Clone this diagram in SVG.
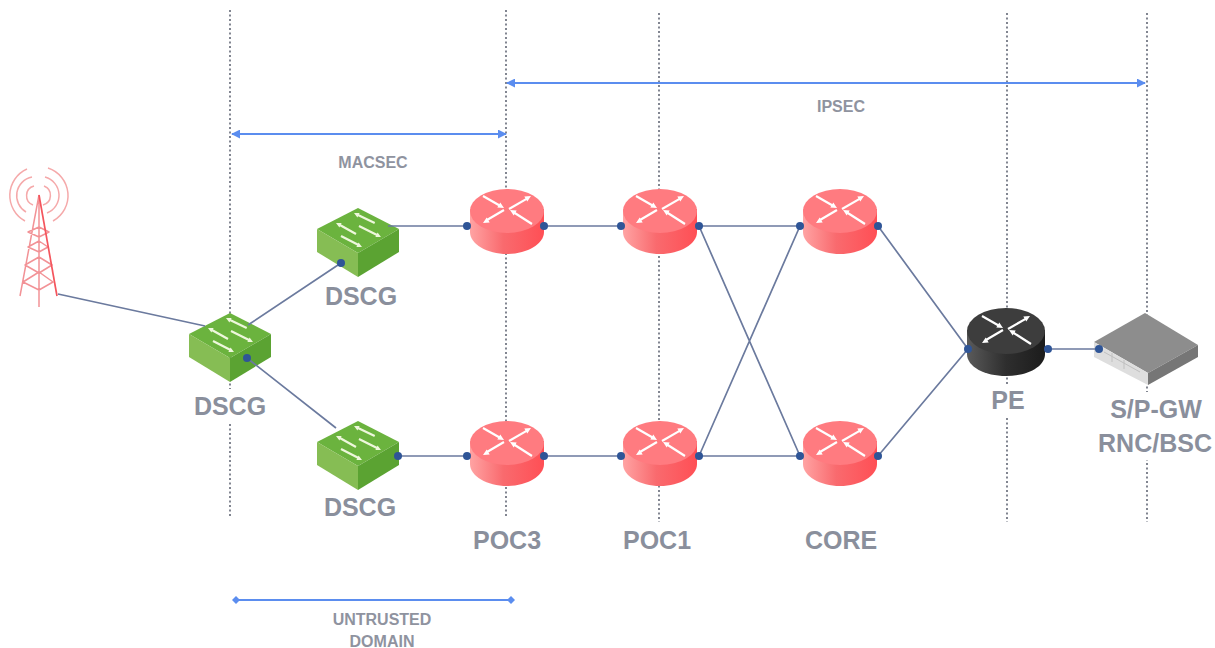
<svg xmlns="http://www.w3.org/2000/svg" width="1215" height="648" viewBox="0 0 1215 648">
<style>
.guide{stroke:#3f4656;stroke-width:1.3;stroke-dasharray:2 2.5;fill:none}
.link{stroke:#6b7a9e;stroke-width:1.7;fill:none}
.span{stroke:#5b8def;stroke-width:2;fill:none}
.dot{fill:#2f5597}
.big{font:bold 25px "Liberation Sans",Arial,sans-serif;fill:#8a8f9c;text-anchor:middle}
.small{font:bold 16px "Liberation Sans",Arial,sans-serif;fill:#8f939f;text-anchor:middle}
.mask{fill:#fff}
.tw{stroke:#f29296;fill:none;stroke-width:1.5}
.arc{stroke:#f5a9aa;fill:none;stroke-width:1.5}
.wa{stroke:#fff;stroke-width:2.2;fill:none}
.wh{fill:#fff}
.sa{stroke:#eef7dc;stroke-width:2.2;fill:none}
.sh{fill:#eef7dc}
</style>
<defs>
<linearGradient id="rb" x1="0" x2="1" y1="0" y2="0"><stop offset="0" stop-color="#ffa3a3"/><stop offset=".45" stop-color="#f96a6e"/><stop offset="1" stop-color="#ff4f55"/></linearGradient>
<linearGradient id="kb" x1="0" x2="1" y1="0" y2="0"><stop offset="0" stop-color="#5a5a5a"/><stop offset=".5" stop-color="#2e2e2e"/><stop offset="1" stop-color="#1c1c1c"/></linearGradient>
<marker id="ah" viewBox="0 0 10 10" refX="9" refY="5" markerWidth="4.5" markerHeight="4.5" orient="auto-start-reverse"><path d="M0 0L10 5L0 10z" fill="#5b8def"/></marker>
<marker id="dm" viewBox="0 0 10 10" refX="5" refY="5" markerWidth="4" markerHeight="4"><path d="M5 0L10 5L5 10L0 5z" fill="#5b8def"/></marker>
<g id="rarrows">
<path class="wa" d="M-24 -15L-7 -5.3M2 -2L20 -12.4M-3 -1L-20 9M25 13L7 1.5"/>
<path class="wh" d="M-3 -3L-6.7 -8.6L-9.7 -3.4zM24 -15L20.3 -9.4L17.3 -14.6zM-24 12L-17.3 11.6L-20.3 6.4zM3 -1L9.7 -.6L6.7 4.6z"/>
</g>
<g id="router">
<path fill="url(#rb)" d="M-37 -15V8C-37 20 -20 30 0 30S37 20 37 8V-15z"/>
<ellipse cx="0" cy="-13" rx="37" ry="22" fill="#ff7b80"/>
<use href="#rarrows" y="-13"/>
</g>
<g id="router-k">
<path fill="url(#kb)" d="M-39 -15V9C-39 22 -21 31 0 31S39 22 39 9V-15z"/>
<ellipse cx="0" cy="-14" rx="39" ry="23" fill="#3d3d3d"/>
<use href="#rarrows" y="-14"/>
</g>
<g id="switch">
<path fill="#6bb33e" d="M0 0L41 21L0 45L-41 21z"/>
<path fill="#86bd54" d="M-41 21L0 45V69L-41 44z"/>
<path fill="#5ba332" d="M41 21L0 45V69L41 44z"/>
<path class="sa" d="M16.7 15L-1 6.5M-2 26L-19 16.5M1 18L19.5 27.3M-17 28L1 37.3"/>
<path class="sh" d="M-4 5L1.6 5.1L-.6 9.5zM-22 15L-16.4 15.1L-18.6 19.5zM23 29L19.6 24.5L17.4 28.9zM4 39L.6 34.5L-1.6 38.9z"/>
</g>
</defs>

<g id="guides">
<path class="guide" d="M230 10V518M506 10V518M659 13V522M1007 13V522M1147 13V522"/>
</g>

<g id="spans">
<path class="span" d="M507 83H1145" marker-start="url(#ah)" marker-end="url(#ah)"/>
<path class="span" d="M232 134H506" marker-start="url(#ah)" marker-end="url(#ah)"/>
<path class="span" d="M236 600H511" marker-start="url(#dm)" marker-end="url(#dm)"/>
<text class="small" x="841" y="112">IPSEC</text>
<text class="small" x="373" y="168">MACSEC</text>
<text class="small" x="382" y="625">UNTRUSTED</text>
<text class="small" x="382" y="647">DOMAIN</text>
</g>

<g id="tower">
<path class="tw" d="M39 195L20 296M39 195L39 307M28 232L39 227L49 232L39 237zM28 247L39 241L48 247L39 252zM25 265L39 257L52 265L39 273zM23 282L39 272L53 282L39 290z" stroke-linejoin="round"/>
<path d="M39 195L57 296" stroke="#f4555d" stroke-width="1.7" fill="none"/>
<path class="arc" d="M33 205A10 10 0 0 1 34 186M44 186A10 10 0 0 1 43 205M26 212A19 19 0 0 1 32 177M45 177A19 19 0 0 1 47 213M25 221A29 29 0 0 1 27 169M48 168A29 29 0 0 1 53 221"/>
</g>

<g id="dscg-main"><use href="#switch" x="230" y="313"/><rect class="mask" x="192" y="389" width="76" height="34"/><text class="big" x="230" y="415">DSCG</text></g>
<g id="dscg-upper"><use href="#switch" x="358" y="208"/><rect class="mask" x="323" y="281" width="76" height="30"/><text class="big" x="361" y="305">DSCG</text></g>
<g id="dscg-lower"><use href="#switch" x="358" y="421"/><rect class="mask" x="322" y="492" width="76" height="30"/><text class="big" x="360" y="516">DSCG</text></g>
<g id="poc3-upper"><use href="#router" x="507" y="224"/></g>
<g id="poc1-upper"><use href="#router" x="660" y="224"/></g>
<g id="core-upper"><use href="#router" x="840" y="224"/></g>
<g id="poc3-lower"><use href="#router" x="507" y="456"/><rect class="mask" x="470" y="526" width="74" height="30"/><text class="big" x="507" y="549">POC3</text></g>
<g id="poc1-lower"><use href="#router" x="660" y="456"/><rect class="mask" x="621" y="526" width="74" height="30"/><text class="big" x="657" y="549">POC1</text></g>
<g id="core-lower"><use href="#router" x="840" y="456"/><text class="big" x="841" y="549">CORE</text></g>
<g id="pe"><use href="#router-k" x="1006" y="345"/><rect class="mask" x="989" y="384" width="38" height="32"/><text class="big" x="1008" y="409">PE</text></g>
<g id="gateway">
<path fill="#8d8d8d" d="M1145 313L1198 345L1148 373L1094 342z"/>
<path fill="#dedede" d="M1094 342L1148 373V385L1094 357z"/>
<path fill="#767676" d="M1198 345L1148 373V385L1198 357z"/>
<path stroke="#c0c0c0" stroke-width="1" fill="none" d="M1104 352L1140 372M1112 353V362M1124 360V369"/>
<rect class="mask" x="1096" y="392" width="120" height="68"/>
<text class="big" x="1156" y="418">S/P-GW</text>
<text class="big" x="1155" y="452">RNC/BSC</text>
</g>

<g id="connectors">
<path class="link" d="M58 294L205 326M248 325L341 263M247 358L336 428M388 226H467M544 226H621M699 226H800M699 226L800 456M699 456L800 226M398 456H467M544 456H621M699 456H800M878 226L968 349M878 456L968 349M1048 349H1099"/>
<g class="dot">
<circle cx="247" cy="358" r="4"/><circle cx="341" cy="263" r="4"/><circle cx="398" cy="456" r="4"/>
<circle cx="467" cy="226" r="4"/><circle cx="544" cy="226" r="4"/><circle cx="621" cy="226" r="4"/><circle cx="699" cy="226" r="4"/><circle cx="800" cy="226" r="4"/><circle cx="878" cy="226" r="4"/>
<circle cx="467" cy="456" r="4"/><circle cx="544" cy="456" r="4"/><circle cx="621" cy="456" r="4"/><circle cx="699" cy="456" r="4"/><circle cx="800" cy="456" r="4"/><circle cx="878" cy="456" r="4"/>
<circle cx="968" cy="349" r="4"/><circle cx="1048" cy="349" r="4"/><circle cx="1099" cy="349" r="4"/>
</g>
</g>
</svg>
